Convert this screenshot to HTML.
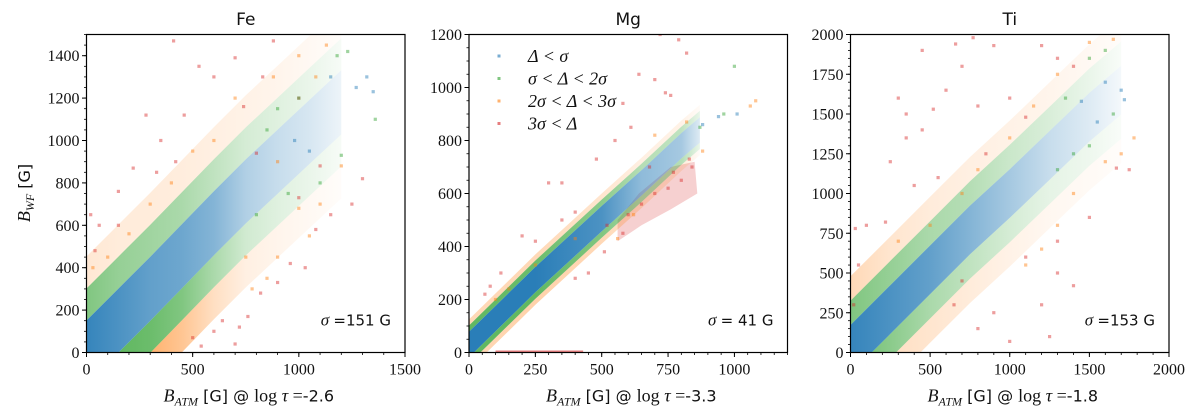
<!DOCTYPE html>
<html><head><meta charset="utf-8"><style>
html,body{margin:0;background:#fff;overflow:hidden;width:1200px;height:419px;}
svg{display:block;}
.tk{font-family:"Liberation Serif",serif;font-size:16px;fill:#111;}
.tt{font-family:"DejaVu Sans","Liberation Sans",sans-serif;font-size:17px;fill:#111;}
.lb{font-family:"Liberation Serif",serif;font-size:18px;fill:#111;}
.sg{font-family:"DejaVu Sans","Liberation Sans",sans-serif;font-size:15px;fill:#111;}
</style></head><body>
<svg id="chart" width="1200" height="419" viewBox="0 0 1200 419"></svg>
<script>
// ---- data (data units) ----
const panelNames = ["Fe","Mg","Ti"];
const panelLefts = [86.5, 469, 850.5];
const xMaxes = [1500, 1200, 2000];
const yMaxes = [1500, 1200, 2000];
const xTicks = [[0,500,1000,1500],[0,250,500,750,1000],[0,500,1000,1500,2000]];
const yTicks = [[0,200,400,600,800,1000,1200,1400],[0,200,400,600,800,1000,1200],[0,250,500,750,1000,1250,1500,1750,2000]];
const xMinorStep = [100, 50, 100];
const yMinorStep = [50, 50, 50];
const tauLabels = ["-2.6","-3.3","-1.8"];
const sigmaLabels = ["=151 G","= 41 G","=153 G"];

const feCenterX = [0,150,300,450,600,750,900,1050,1200];
const feCenterY = [0,150,300,455,610,760,900,1040,1180];
const feWidths = [151,302,453];
const feBlueDens = [0.9,0.8,0.7,0.65,0.55,0.35,0.25,0.18,0.08];
const feGreenUpDens = [0.6,0.5,0.45,0.4,0.3,0.2,0.15,0.1,0.04];
const feGreenLoDens = [0.75,0.75,0.7,0.6,0.4,0.22,0.15,0.1,0.04];
const feOrangeUpDens = [0.18,0.15,0.15,0.14,0.12,0.1,0.08,0.05,0.02];
const feOrangeLoDens = [0.6,0.65,0.6,0.45,0.25,0.12,0.08,0.05,0.02];

const mgCenterX = [0,250,500,650,800,870];
const mgCenterY = [30,275,505,640,780,840];
const mgWidths = [48,72,95];
const mgBlueDens = [0.95,0.95,0.8,0.5,0.4,0.15];
const mgGreenUpDens = [0.75,0.7,0.55,0.35,0.3,0.1];
const mgGreenLoDens = [0.75,0.75,0.6,0.4,0.35,0.1];
const mgOrangeUpDens = [0.3,0.3,0.2,0.12,0.1,0.03];
const mgOrangeLoDens = [0.3,0.35,0.3,0.2,0.15,0.03];
const mgRedClusterX = [560,650,760,860,850,760,640,560];
const mgRedClusterY = [420,480,540,600,720,700,600,500];

const tiCenterX = [0,250,500,750,1000,1250,1500,1700];
const tiCenterY = [20,270,520,770,1000,1240,1480,1650];
const tiWidths = [153,306,459];
const tiBlueDens = [0.9,0.8,0.7,0.55,0.4,0.25,0.15,0.05];
const tiGreenUpDens = [0.6,0.5,0.4,0.35,0.25,0.18,0.1,0.03];
const tiGreenLoDens = [0.7,0.55,0.4,0.3,0.2,0.12,0.08,0.03];
const tiOrangeUpDens = [0.3,0.2,0.15,0.12,0.1,0.08,0.05,0.02];
const tiOrangeLoDens = [0.35,0.25,0.2,0.15,0.1,0.06,0.04,0.02];

const feRedX = [410,530,600,700,880,830,280,350,220,420,460,150,60,40,20,150,330,740,800,1000,1100,1300,1250,1150,1080,1030,960,900,820,760,720,600,540,500,640,700,1000];
const feRedY = [1470,1350,1300,1390,1470,1300,1120,1000,870,900,1120,760,600,480,650,600,850,1160,940,1200,880,820,700,650,580,400,420,330,280,170,120,100,30,70,150,40,730];
const feOrangeX = [30,100,200,300,400,500,600,700,880,1000,1080,1130,900,1000,1100,1050,900,850,780,750,1200];
const feOrangeY = [400,450,560,700,800,950,1000,1200,1300,1400,1300,1450,900,680,700,550,450,350,300,450,880];
const feGreenX = [900,1000,1180,1230,1360,1200,1100,950,800,850];
const feGreenY = [1150,1200,1400,1420,1100,930,800,750,650,1050];
const feBlueX = [1150,1270,1320,1350,1050,980];
const feBlueY = [1300,1250,1300,1230,950,1000];

const mgRedX = [720,790,820,640,700,760,580,740,610,480,550,300,350,400,350,200,250,120,60,80,580,510,450,400,520,680,770,830,840,700,650,600,750,800];
const mgRedY = [1200,1180,1130,1050,1030,970,940,980,850,730,800,640,640,530,500,440,420,300,220,250,450,380,300,280,480,700,680,730,700,600,560,520,620,650];
const mgOrangeX = [100,150,250,400,700,820,880,1080,560,620,1060];
const mgOrangeY = [200,240,330,430,820,870,760,950,430,520,930];
const mgGreenX = [1000,960,870];
const mgGreenY = [1080,900,850];
const mgBlueX = [940,1010,880];
const mgBlueY = [890,900,860];
const mgBottomRedX = [100,430];

const tiRedX = [660,450,450,770,900,700,1200,1300,1400,800,520,600,350,1100,1000,250,400,550,850,30,100,220,50,20,1100,1300,1400,1500,1750,1670,1300,1200,1250,1000,900,800,650,700,350,300];
const tiRedY = [1940,1400,1900,1980,1930,1800,1930,1850,1800,1550,1530,1650,1500,1480,1600,1200,1050,1100,1250,780,800,820,550,300,600,500,420,850,1150,1160,700,300,100,70,250,150,300,450,1350,1600];
const tiOrangeX = [300,500,700,800,1000,1150,1300,1500,1650,1700,1780,1600,1400,1300,1200,1100];
const tiOrangeY = [700,800,1000,1150,1350,1550,1750,1950,1970,1250,1350,1200,1000,800,650,550];
const tiGreenX = [1350,1500,1600,1650,1500,1400,1300];
const tiGreenY = [1600,1850,1900,1500,1300,1250,1150];
const tiBlueX = [1600,1700,1720,1550,1450];
const tiBlueY = [1700,1650,1590,1450,1580];

const legendLabels = ["Δ < σ","σ < Δ < 2σ","2σ < Δ < 3σ","3σ < Δ"];

// ---- drawing ----
const C = {blue:"#1f77b4",green:"#2ca02c",orange:"#ff7f0e",red:"#d62728"};
const NS = "http://www.w3.org/2000/svg";
const svg = document.getElementById("chart");
const TOP = 34.5, BOT = 352.5, W = 318.5, H = 318;
function mk(tag, attrs, parent){const e=document.createElementNS(NS,tag);for(const k in attrs)e.setAttribute(k,attrs[k]);(parent||svg).appendChild(e);return e;}
function sx(p,v){return panelLefts[p]+v/xMaxes[p]*W;}
function sy(p,v){return BOT-v/yMaxes[p]*H;}

const bandData = [
 {cx:feCenterX,cy:feCenterY,w:feWidths,b:feBlueDens,gu:feGreenUpDens,gl:feGreenLoDens,ou:feOrangeUpDens,ol:feOrangeLoDens},
 {cx:mgCenterX,cy:mgCenterY,w:mgWidths,b:mgBlueDens,gu:mgGreenUpDens,gl:mgGreenLoDens,ou:mgOrangeUpDens,ol:mgOrangeLoDens},
 {cx:tiCenterX,cy:tiCenterY,w:tiWidths,b:tiBlueDens,gu:tiGreenUpDens,gl:tiGreenLoDens,ou:tiOrangeUpDens,ol:tiOrangeLoDens}];
const pointData = [
 [[feRedX,feRedY,C.red],[feOrangeX,feOrangeY,C.orange],[feGreenX,feGreenY,C.green],[feBlueX,feBlueY,C.blue]],
 [[mgRedX,mgRedY,C.red],[mgOrangeX,mgOrangeY,C.orange],[mgGreenX,mgGreenY,C.green],[mgBlueX,mgBlueY,C.blue]],
 [[tiRedX,tiRedY,C.red],[tiOrangeX,tiOrangeY,C.orange],[tiGreenX,tiGreenY,C.green],[tiBlueX,tiBlueY,C.blue]]];

const defs = mk("defs",{});
for(let p=0;p<3;p++){
  const cp = mk("clipPath",{id:"clip"+p},defs);
  mk("rect",{x:panelLefts[p],y:TOP,width:W,height:H},cp);
}
let gid=0;
function band(p,g,d,lo,hi,dens,color,name){
  const n=d.cx.length, x0=sx(p,d.cx[0]), x1=sx(p,d.cx[n-1]);
  const id="gr"+(gid++);
  const gr=mk("linearGradient",{id:id,gradientUnits:"userSpaceOnUse",x1:x0,y1:0,x2:x1,y2:0},defs);
  for(let i=0;i<n;i++){
    mk("stop",{offset:((sx(p,d.cx[i])-x0)/(x1-x0)).toFixed(3),"stop-color":color,"stop-opacity":dens[i]},gr);
  }
  const pts=[];
  for(let i=0;i<n;i++) pts.push([d.cx[i],d.cy[i]+lo]);
  for(let i=n-1;i>=0;i--) pts.push([d.cx[i],d.cy[i]+hi]);
  const e=mk("polygon",{points:pts.map(q=>sx(p,q[0]).toFixed(1)+","+sy(p,q[1]).toFixed(1)).join(" "),fill:"url(#"+id+")"},g);
  
  
}

for(let p=0;p<3;p++){
  const L=panelLefts[p], d=bandData[p];
  const g=mk("g",{"clip-path":"url(#clip"+p+")"});
  
  
  if(p===1){
    const rc=mk("polygon",{points:mgRedClusterX.map((x,i)=>sx(1,x).toFixed(1)+","+sy(1,mgRedClusterY[i]).toFixed(1)).join(" "),fill:C.red,"fill-opacity":0.22},g);
    
    
  }
  band(p,g,d,d.w[1],d.w[2],d.ou,C.orange,'orange-band-upper');
  band(p,g,d,-d.w[2],-d.w[1],d.ol,C.orange,'orange-band-lower');
  band(p,g,d,d.w[0],d.w[1],d.gu,C.green,'green-band-upper');
  band(p,g,d,-d.w[1],-d.w[0],d.gl,C.green,'green-band-lower');
  band(p,g,d,-d.w[0],d.w[0],d.b,C.blue,'blue-band');
  if(p===1){
    const r=mk("rect",{x:sx(1,mgBottomRedX[0]),y:BOT-2,width:sx(1,mgBottomRedX[1])-sx(1,mgBottomRedX[0]),height:2,fill:C.red,opacity:0.6},g);
    
    
  }
  for(const [xs,ys,col] of pointData[p]){
    for(let i=0;i<xs.length;i++){
      const c=mk("rect",{x:(sx(p,xs[i])-1.6).toFixed(1),y:(sy(p,ys[i])-1.6).toFixed(1),width:3.2,height:3.2,fill:col,opacity:0.45},g);
      
      
    }
  }
  const fr=mk("rect",{x:L,y:TOP,width:W,height:H,fill:"none",stroke:"#000","stroke-width":1.2});
  
  
  for(let v=0;v<=xMaxes[p];v+=xMinorStep[p]){mk("line",{x1:sx(p,v),x2:sx(p,v),y1:BOT,y2:BOT+2.5,stroke:"#000","stroke-width":0.8});}
  for(let v=0;v<=yMaxes[p];v+=yMinorStep[p]){mk("line",{x1:L,x2:L-2.5,y1:sy(p,v),y2:sy(p,v),stroke:"#000","stroke-width":0.8});}
  for(const v of xTicks[p]){
    mk("line",{x1:sx(p,v),x2:sx(p,v),y1:BOT,y2:BOT+4.5,stroke:"#000","stroke-width":1});
    const t=mk("text",{x:sx(p,v),y:BOT+22,"text-anchor":"middle",class:"tk"});t.textContent=v;
    
    
  }
  for(const v of yTicks[p]){
    mk("line",{x1:L,x2:L-4.5,y1:sy(p,v),y2:sy(p,v),stroke:"#000","stroke-width":1});
    const t=mk("text",{x:L-7,y:sy(p,v)+5.5,"text-anchor":"end",class:"tk"});t.textContent=v;
    
    
  }
  const ti=mk("text",{x:L+W/2,y:25,"text-anchor":"middle",class:"tt"});ti.textContent=panelNames[p];
  
  
  const xl=mk("text",{x:L+W/2+3,y:BOT+49,"text-anchor":"middle",class:"lb"});
  xl.innerHTML='<tspan font-style="italic">B</tspan><tspan font-style="italic" font-size="12" dy="4">ATM</tspan><tspan dy="-4" font-family="DejaVu Sans" font-size="16"> [G] @ </tspan><tspan>log </tspan><tspan font-style="italic">τ</tspan><tspan> =</tspan><tspan font-family="DejaVu Sans" font-size="16">'+tauLabels[p]+'</tspan>';
  
  
  const sg=mk("text",{x:L+W-14,y:BOT-27,"text-anchor":"end",class:"sg"});
  sg.innerHTML='<tspan font-family="Liberation Serif" font-style="italic" font-size="17">σ </tspan>'+sigmaLabels[p];
  
  
}
const yl=mk("text",{transform:"translate(30,193) rotate(-90)","text-anchor":"middle",class:"lb"});
yl.innerHTML='<tspan font-style="italic">B</tspan><tspan font-style="italic" font-size="12" dy="4">WF</tspan><tspan dy="-4" font-family="DejaVu Sans" font-size="16"> [G]</tspan>';



const legCols=[C.blue,C.green,C.orange,C.red];
const lg=mk("g",{});


for(let i=0;i<4;i++){
  const y=56+i*22.5;
  const m=mk("rect",{x:497.5,y:y-1.5,width:3,height:3,fill:legCols[i],opacity:0.6},lg);
  
  
  const t=mk("text",{x:528,y:y+6,class:"lb","font-style":"italic"},lg);t.textContent=legendLabels[i];
  
  
}
</script>
</body></html>
